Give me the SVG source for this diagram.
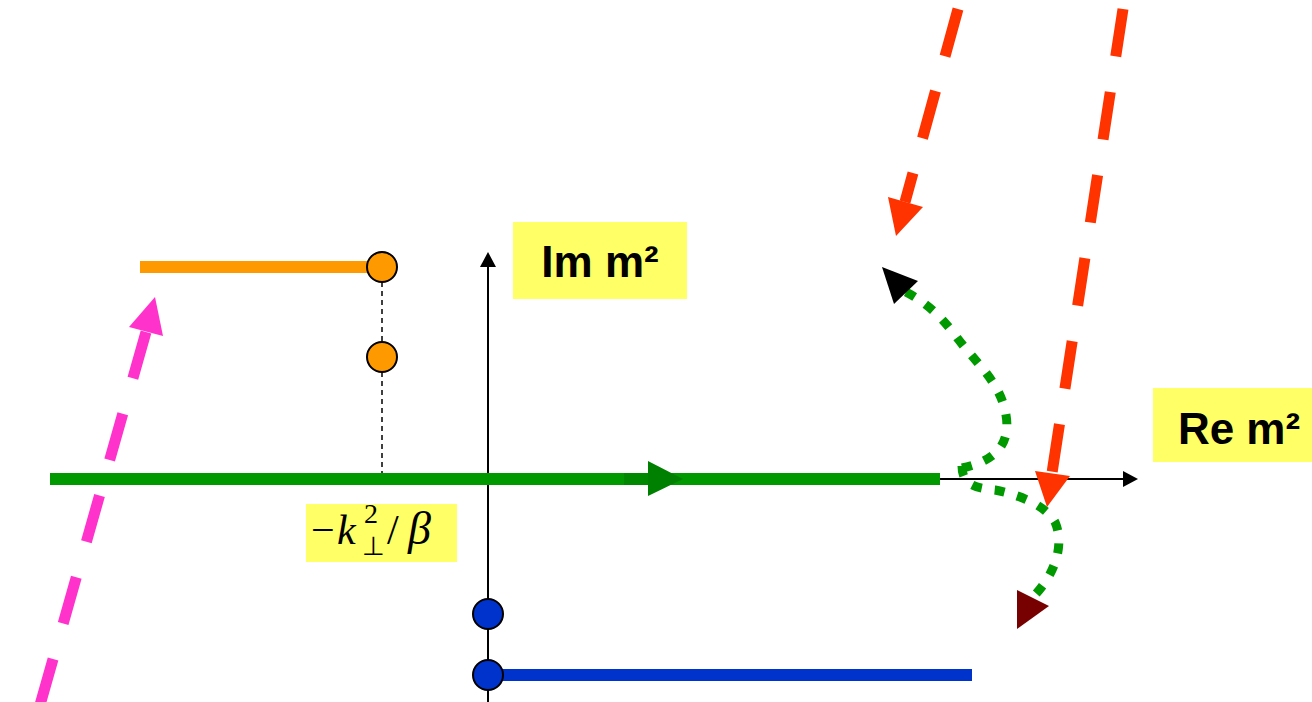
<svg xmlns="http://www.w3.org/2000/svg" width="1312" height="702" viewBox="0 0 1312 702">
  <style>
    .axis { stroke: #000; stroke-width: 2; fill: none; }
    .label-box { fill: #FFFF66; }
    .label { font-family: "Liberation Sans", Arial, sans-serif; font-weight: bold; font-size: 44px; fill: #000; }
    .math { font-family: "Liberation Serif", "Times New Roman", serif; fill: #000; }
    .dot { stroke: #000; stroke-width: 2; }
    .dotted { fill: none; stroke: #009900; stroke-width: 9; stroke-dasharray: 10 13; }
    .dashed-red { fill: none; stroke: #FF3300; stroke-width: 11; stroke-dasharray: 49 36; }
  </style>
  <rect width="1312" height="702" fill="#fff"/>

  <g id="axes">
    <line class="axis" x1="50" y1="479" x2="1124" y2="479"/>
    <polygon points="1138,479 1123,471 1123,487" fill="#000"/>
    <line class="axis" x1="488" y1="266" x2="488" y2="702"/>
    <polygon points="488,252 480,267 496,267" fill="#000"/>
  </g>

  <g id="cut-orange">
    <line x1="140" y1="267" x2="370" y2="267" stroke="#FF9900" stroke-width="12"/>
    <line x1="382" y1="282" x2="382" y2="479" stroke="#000" stroke-width="1.5" stroke-dasharray="5 4"/>
    <circle class="dot" cx="382" cy="267" r="15" fill="#FF9900"/>
    <circle class="dot" cx="382" cy="357" r="15" fill="#FF9900"/>
  </g>

  <g id="cut-blue">
    <line x1="500" y1="675" x2="972" y2="675" stroke="#0033CC" stroke-width="12"/>
    <circle class="dot" cx="488" cy="614" r="15" fill="#0033CC"/>
    <circle class="dot" cx="488" cy="675" r="15" fill="#0033CC"/>
  </g>

  <g id="contour-green">
    <line x1="50" y1="479" x2="940" y2="479" stroke="#009900" stroke-width="12"/>
    <rect x="624" y="473" width="24" height="12" fill="#008800"/>
    <polygon points="683,479 648,461 648,496" fill="#008000"/>
  </g>

  <g id="connectors">
    <g id="pink-arrow">
      <path d="M 146 332 L 40 705" fill="none" stroke="#FF33CC" stroke-width="11" stroke-dasharray="48 37"/>
      <polygon points="155,297 129,327 163,336" fill="#FF33CC"/>
    </g>
    <g id="red-arrow-1">
      <path class="dashed-red" d="M 958 9 L 905 202"/>
      <polygon points="896,236 888,197 923,207" fill="#FF3300"/>
    </g>
    <g id="red-arrow-2">
      <path class="dashed-red" d="M 1123 9 L 1052 473" style="stroke-dasharray: 48 36"/>
      <polygon points="1047,507 1035,471 1070,476" fill="#FF3300"/>
    </g>
    <g id="green-arc-up">
      <path class="dotted" d="M 962 468 C 1000 460, 1012 440, 1005 410 C 998 380, 975 362, 955 335 C 940 315, 925 302, 906 292"/>
      <polygon points="882,267 894,304 918,281" fill="#000"/>
    </g>
    <g id="green-arc-down">
      <path class="dotted" d="M 962 466 C 962 485, 975 488, 995 490 C 1020 495, 1045 505, 1055 522 C 1065 545, 1055 575, 1032 598"/>
      <polygon points="1049,606 1017,590 1017,629" fill="#770000"/>
    </g>
  </g>

  <g id="label-im">
    <rect class="label-box" x="513" y="222" width="174" height="77"/>
    <text class="label" x="600" y="277" text-anchor="middle">Im m²</text>
  </g>

  <g id="label-re">
    <rect class="label-box" x="1153" y="388" width="159" height="74"/>
    <text class="label" x="1239" y="444" text-anchor="middle">Re m²</text>
  </g>

  <g id="label-k">
    <rect class="label-box" x="306" y="504" width="151" height="58"/>
    <text class="math" x="311" y="544" font-size="42">−</text>
    <text class="math" x="337" y="544" font-size="42" font-style="italic">k</text>
    <text class="math" x="364" y="523" font-size="28">2</text>
    <text class="math" x="362" y="555" font-size="26">⊥</text>
    <text class="math" x="387" y="544" font-size="42">/</text>
    <text class="math" x="408" y="544" font-size="46" font-style="italic">β</text>
  </g>
</svg>
